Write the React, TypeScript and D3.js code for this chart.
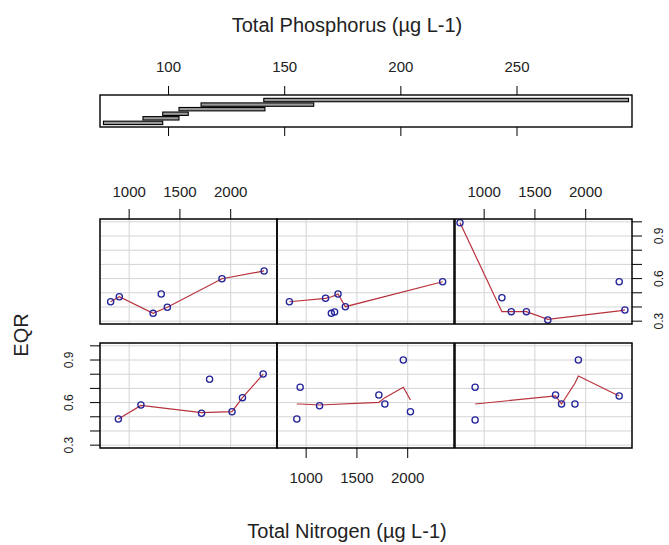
// @ts-nocheck
import { useEffect, useRef } from "react";
import * as d3 from "d3";

// given variable: Total Phosphorus shingle intervals (bottom -> top)
const tpLower = [72, 89, 97.5, 104.5, 114, 141];
const tpUpper = [97.5, 104.5, 108.5, 141.5, 162.5, 298];
const tpTicks = [100, 150, 200, 250];

// panels, numbered like coplot: bottom-left first, then right, then up
// tn = Total Nitrogen, eqr = observed EQR, smooth = red smoother read off the plot
const tn1 = [894, 1116, 1713, 1792, 2013, 2116, 2320];
const eqr1 = [0.484, 0.583, 0.525, 0.764, 0.536, 0.635, 0.802];
const smooth1 = [0.484, 0.58, 0.529, 0.531, 0.536, 0.635, 0.8];
const tn2 = [908, 941, 1132, 1716, 1775, 1957, 2027];
const eqr2 = [0.484, 0.708, 0.578, 0.654, 0.59, 0.9, 0.536];
const smooth2 = [0.59, 0.59, 0.583, 0.602, 0.635, 0.708, 0.618];
const tn3 = [911, 911, 1703, 1762, 1894, 1928, 2330];
const eqr3 = [0.477, 0.708, 0.654, 0.59, 0.59, 0.9, 0.647];
const smooth3 = [0.59, 0.59, 0.647, 0.59, 0.736, 0.787, 0.647];
const tn4 = [818, 903, 1236, 1316, 1376, 1914, 2329];
const eqr4 = [0.437, 0.472, 0.355, 0.491, 0.398, 0.599, 0.654];
const smooth4 = [0.437, 0.472, 0.355, 0.38, 0.398, 0.599, 0.654];
const tn5 = [835, 1191, 1248, 1280, 1314, 1386, 2344];
const eqr5 = [0.437, 0.461, 0.355, 0.365, 0.491, 0.402, 0.578];
const smooth5 = [0.437, 0.461, 0.472, 0.48, 0.491, 0.402, 0.578];
const tn6 = [762, 1175, 1267, 1416, 1627, 2330, 2386];
const eqr6 = [0.994, 0.465, 0.367, 0.367, 0.308, 0.578, 0.379];
const smooth6 = [0.994, 0.367, 0.367, 0.367, 0.313, 0.372, 0.379];

const tnTicks = [1000, 1500, 2000];
const eqrTicks = [0.3, 0.4, 0.5, 0.6, 0.7, 0.8, 0.9, 1.0];
const eqrLabels = [0.3, 0.6, 0.9];

const App = () => {
  const ref = useRef();

  useEffect(() => {
    const svg = d3.select(ref.current);
    svg.selectAll("*").remove();
    const font = "'Liberation Sans', Arial, sans-serif";

    // ---- given panel (Total Phosphorus)
    const gBox = { x0: 100, x1: 632, y0: 95, y1: 127 };
    const gx = d3.scaleLinear().domain([70.5, 299.5]).range([gBox.x0, gBox.x1]);
    const gy = d3.scaleLinear().domain([0.1, 7.1]).range([gBox.y1, gBox.y0]);

    const given = svg.append("g");
    given
      .selectAll("rect.bar")
      .data(tpLower)
      .join("rect")
      .attr("class", "bar")
      .attr("x", (d) => gx(d))
      .attr("width", (d, i) => gx(tpUpper[i]) - gx(d))
      .attr("y", (d, i) => gy(i + 1) - 1.7)
      .attr("height", 3.4)
      .attr("fill", "#999")
      .attr("stroke", "#000")
      .attr("stroke-width", 1.1);
    given
      .append("rect")
      .attr("x", gBox.x0)
      .attr("y", gBox.y0)
      .attr("width", gBox.x1 - gBox.x0)
      .attr("height", gBox.y1 - gBox.y0)
      .attr("fill", "none")
      .attr("stroke", "#000")
      .attr("stroke-width", 1.4);
    tpTicks.forEach((t) => {
      given
        .append("line")
        .attr("x1", gx(t))
        .attr("x2", gx(t))
        .attr("y1", gBox.y0)
        .attr("y2", gBox.y0 - 9)
        .attr("stroke", "#000");
      given
        .append("line")
        .attr("x1", gx(t))
        .attr("x2", gx(t))
        .attr("y1", gBox.y1)
        .attr("y2", gBox.y1 + 9)
        .attr("stroke", "#000");
      given
        .append("text")
        .attr("x", gx(t))
        .attr("y", 72)
        .attr("text-anchor", "middle")
        .attr("font-family", font)
        .attr("font-size", 15)
        .attr("fill", "#222")
        .text(t);
    });

    // ---- conditioning panels
    const panels = [
      { tn: tn1, eqr: eqr1, sm: smooth1 },
      { tn: tn2, eqr: eqr2, sm: smooth2 },
      { tn: tn3, eqr: eqr3, sm: smooth3 },
      { tn: tn4, eqr: eqr4, sm: smooth4 },
      { tn: tn5, eqr: eqr5, sm: smooth5 },
      { tn: tn6, eqr: eqr6, sm: smooth6 },
    ];
    const colX = [100, 277, 455];
    const panelW = 177;
    const rowY = [343, 219];
    const panelH = 105;
    const tickLen = 10;

    panels.forEach((p, k) => {
      const col = k % 3;
      const row = Math.floor(k / 3);
      const x0 = colX[col];
      const y0 = rowY[row];
      const x = d3.scaleLinear().domain([713, 2456]).range([x0, x0 + panelW]);
      const y = d3.scaleLinear().domain([0.28, 1.02]).range([y0 + panelH, y0]);
      const g = svg.append("g");

      // grid
      g.selectAll("line.vg")
        .data(tnTicks)
        .join("line")
        .attr("x1", (d) => x(d))
        .attr("x2", (d) => x(d))
        .attr("y1", y0)
        .attr("y2", y0 + panelH)
        .attr("stroke", "#d4d4d4")
        .attr("stroke-width", 1);
      g.selectAll("line.hg")
        .data(eqrTicks)
        .join("line")
        .attr("x1", x0)
        .attr("x2", x0 + panelW)
        .attr("y1", (d) => y(d))
        .attr("y2", (d) => y(d))
        .attr("stroke", "#d4d4d4")
        .attr("stroke-width", 1);

      // smoother
      g.append("path")
        .datum(p.tn)
        .attr("fill", "none")
        .attr("stroke", "#b8323c")
        .attr("stroke-width", 1.2)
        .attr(
          "d",
          d3
            .line()
            .x((d) => x(d))
            .y((d, i) => y(p.sm[i]))
        );

      // points
      g.selectAll("circle")
        .data(p.tn)
        .join("circle")
        .attr("cx", (d) => x(d))
        .attr("cy", (d, i) => y(p.eqr[i]))
        .attr("r", 3.1)
        .attr("fill", "none")
        .attr("stroke", "#23239a")
        .attr("stroke-width", 1.3);

      // border
      g.append("rect")
        .attr("x", x0)
        .attr("y", y0)
        .attr("width", panelW)
        .attr("height", panelH)
        .attr("fill", "none")
        .attr("stroke", "#000")
        .attr("stroke-width", 1.5);

      // x axis: top on top-row outer panels, bottom on bottom-middle
      const topAxis = row === 1 && col !== 1;
      const bottomAxis = row === 0 && col === 1;
      if (topAxis || bottomAxis) {
        tnTicks.forEach((t) => {
          const ay = topAxis ? y0 : y0 + panelH;
          const dir = topAxis ? -1 : 1;
          g.append("line")
            .attr("x1", x(t))
            .attr("x2", x(t))
            .attr("y1", ay)
            .attr("y2", ay + dir * tickLen)
            .attr("stroke", "#000");
          g.append("text")
            .attr("x", x(t))
            .attr("y", topAxis ? ay - 22 : ay + 35)
            .attr("text-anchor", "middle")
            .attr("font-family", font)
            .attr("font-size", 15)
            .attr("fill", "#222")
            .text(t);
        });
      }

      // y axis: left on bottom-left, right on top-right
      const leftAxis = row === 0 && col === 0;
      const rightAxis = row === 1 && col === 2;
      if (leftAxis || rightAxis) {
        const ax = leftAxis ? x0 : x0 + panelW;
        const dir = leftAxis ? -1 : 1;
        eqrTicks.forEach((t) => {
          g.append("line")
            .attr("x1", ax)
            .attr("x2", ax + dir * tickLen)
            .attr("y1", y(t))
            .attr("y2", y(t))
            .attr("stroke", "#000");
        });
        eqrLabels.forEach((t) => {
          const lx = leftAxis ? ax - 27 : ax + 31;
          g.append("text")
            .attr("transform", `translate(${lx},${y(t)}) rotate(-90)`)
            .attr("text-anchor", "middle")
            .attr("font-family", font)
            .attr("font-size", 12)
            .attr("fill", "#222")
            .text(d3.format(".1f")(t));
        });
      }
    });

    // ---- titles
    svg
      .append("text")
      .attr("x", 347)
      .attr("y", 32)
      .attr("text-anchor", "middle")
      .attr("font-family", font)
      .attr("font-size", 20)
      .attr("fill", "#222")
      .text("Total Phosphorus (µg L-1)");
    svg
      .append("text")
      .attr("x", 347)
      .attr("y", 538)
      .attr("text-anchor", "middle")
      .attr("font-family", font)
      .attr("font-size", 20)
      .attr("fill", "#222")
      .text("Total Nitrogen (µg L-1)");
    svg
      .append("text")
      .attr("transform", "translate(28,335) rotate(-90)")
      .attr("text-anchor", "middle")
      .attr("font-family", font)
      .attr("font-size", 20)
      .attr("fill", "#222")
      .text("EQR");
  }, []);

  return (
    <svg
      ref={ref}
      width={669}
      height={545}
      style={{ position: "absolute", left: 0, top: 0, background: "#fff" }}
    />
  );
};

export default App;
